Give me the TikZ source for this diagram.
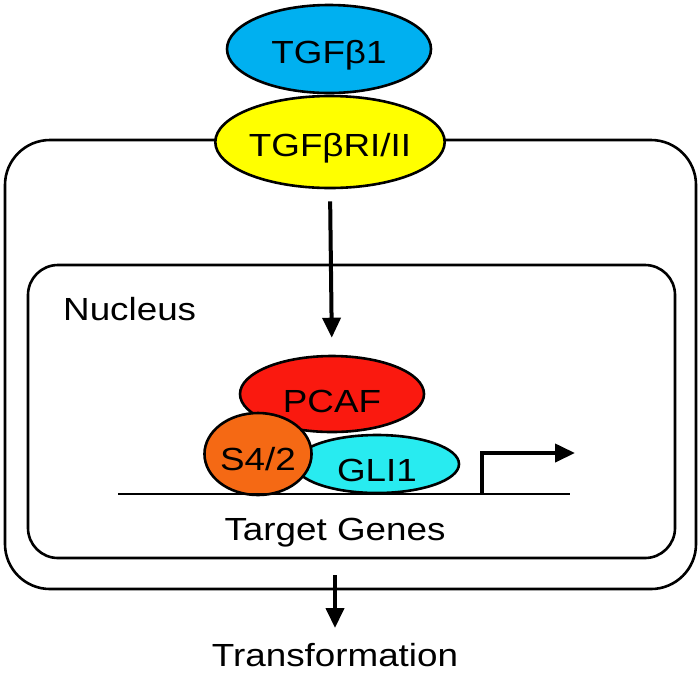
\documentclass[tikz,border=0pt]{standalone}
\usepackage{fontspec}
\newfontfamily\labfont[FakeStretch=1.15]{Liberation Sans}
\usepackage{tikz}
\usetikzlibrary{positioning,shapes.geometric,arrows.meta}

\definecolor{tgfblue}{RGB}{0,176,240}
\definecolor{recyellow}{RGB}{255,255,0}
\definecolor{pcafred}{RGB}{250,25,15}
\definecolor{smadorange}{RGB}{245,105,20}
\definecolor{glicyan}{RGB}{40,235,240}

\newcommand{\lowtext}[2]{\raisebox{-#1}{#2}}

\tikzset{
  prot/.style={ellipse, draw=black, line width=2.6pt, inner sep=0pt,
    font=\labfont\fontsize{32}{36}\selectfont, text height=23pt, text depth=0pt},
  txt/.style={font=\labfont\fontsize{32}{36}\selectfont, inner sep=0pt},
  compart/.style={draw=black, line width=2.6pt},
  arr/.style={line width=4pt, -{Triangle[length=20pt,width=18pt]}},
}

\begin{document}
\begin{tikzpicture}[x=1pt,y=-1pt]
        \useasboundingbox (0,0) rectangle (700,673);
        % cell and nucleus
        \draw[compart, rounded corners=45pt] (5,140) rectangle (696,589);
        \draw[compart, rounded corners=30pt] (28,265) rectangle (675,558);
        \node[txt, anchor=base west] (nuc) at (63,320) {Nucleus};
        % ligand and receptor
        \node[prot, fill=tgfblue, minimum width=204pt, minimum height=88pt] (tgf) at (329,49) {\lowtext{3pt}{TGFβ1}};
        \node[prot, fill=recyellow, minimum width=208pt, minimum height=92pt] (recep) at (330,142) {\lowtext{3pt}{TGFβRI/II}};
        % complex on the promoter
        \node[prot, fill=pcafred, minimum width=184pt, minimum height=76pt] (pcaf) at (332,394) {\lowtext{7pt}{PCAF}};
        \node[prot, fill=glicyan, minimum width=164pt, minimum height=58pt] (gli) at (377,464) {\lowtext{6pt}{GLI1}};
        \node[prot, fill=smadorange, minimum width=102pt, minimum height=82pt] (smad) at (258,454) {\lowtext{5pt}{S4/2}};
        % gene
        \coordinate (dnaL) at (118,494);
        \coordinate (dnaR) at (570,494);
        \draw[line width=2.6pt] (dnaL) -- (dnaR);
        \coordinate (tss) at (482,494);
        \coordinate (tssend) at (575,453);
        \draw[arr] (tss) |- (tssend);
        \node[txt, anchor=base] (genes) at (335,540) {Target Genes};
        \node[txt, anchor=base] (trans) at (335,666) {Transformation};
        % signalling
        \draw[arr, shorten <=12pt, shorten >=17pt] (recep.south) -- (pcaf.north);
        \draw[arr, shorten <=35pt, shorten >=38pt] (genes.base) -- (trans.base);
    \end{tikzpicture}
\end{document}
